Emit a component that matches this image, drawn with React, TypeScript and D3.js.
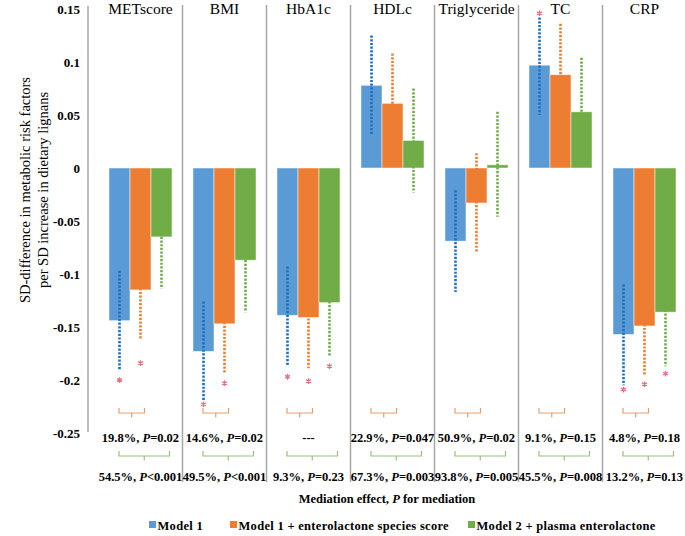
import * as d3 from "d3";

const categories = ["METscore", "BMI", "HbA1c", "HDLc", "Triglyceride", "TC", "CRP"];
const models = ["Model 1", "Model 1 + enterolactone species score", "Model 2 + plasma enterolactone"];
const colors = ["#5b9bd5", "#ed7d31", "#70ad47"];
const ciColors = ["#1f6fc0", "#ed7d31", "#70ad47"];

// point estimates per model
const model1 = [-0.144, -0.173, -0.139, 0.078, -0.069, 0.097, -0.157];
const model2 = [-0.115, -0.147, -0.141, 0.061, -0.033, 0.088, -0.149];
const model3 = [-0.065, -0.087, -0.127, 0.026, 0.003, 0.053, -0.136];

// 95% CI
const model1Lo = [-0.191, -0.219, -0.187, 0.032, -0.117, 0.05, -0.205];
const model1Hi = [-0.097, -0.126, -0.093, 0.125, -0.021, 0.142, -0.11];
const model2Lo = [-0.162, -0.194, -0.189, 0.014, -0.08, 0.04, -0.196];
const model2Hi = [-0.068, -0.1, -0.093, 0.108, 0.014, 0.136, -0.102];
const model3Lo = [-0.114, -0.136, -0.177, -0.023, -0.046, 0.002, -0.187];
const model3Hi = [-0.016, -0.038, -0.077, 0.075, 0.053, 0.104, -0.085];

// significance markers (position of the asterisk), null = none
const model1Star = [-0.2, -0.223, -0.197, null, null, 0.146, -0.209];
const model2Star = [-0.184, -0.203, -0.201, null, null, null, -0.204];
const model3Star = [null, null, -0.187, null, null, null, -0.194];

const yTicks = [0.15, 0.1, 0.05, 0, -0.05, -0.1, -0.15, -0.2, -0.25];

// mediation effect text
const medSpeciesPct = ["19.8%", "14.6%", "---", "22.9%", "50.9%", "9.1%", "4.8%"];
const medSpeciesP = ["=0.02", "=0.02", "", "=0.047", "=0.02", "=0.15", "=0.18"];
const medPlasmaPct = ["54.5%", "49.5%", "9.3%", "67.3%", "93.8%", "45.5%", "13.2%"];
const medPlasmaP = ["<0.001", "<0.001", "=0.23", "=0.003", "=0.005", "=0.008", "=0.13"];

const values = [model1, model2, model3];
const los = [model1Lo, model2Lo, model3Lo];
const his = [model1Hi, model2Hi, model3Hi];
const stars = [model1Star, model2Star, model3Star];

const W = 685;
const H = 536;
const FONT = "Liberation Serif, Times New Roman, DejaVu Serif, serif";

export default function App() {
  const x = d3.scaleBand().domain(categories).range([98.5, 686.5]).paddingInner(0.25).paddingOuter(0.125);
  const xSub = d3.scaleBand().domain(models).range([0, x.bandwidth()]);
  const y = d3.scaleLinear().domain([-0.25, 0.15]).range([433, 9]);
  const step = x.step();
  const bw = xSub.bandwidth();
  const star = d3.symbol(d3.symbolAsterisk, 22)();

  const cx = (c: string) => (x(c) as number) + x.bandwidth() / 2;
  const sx = (c: string, m: number) => (x(c) as number) + (xSub(models[m]) as number) + bw / 2;

  const bracket = (x0: number, x1: number, yy: number, color: string, key: string) => (
    <path
      key={key}
      d={`M${x0},${yy - 5}V${yy}H${x1}V${yy - 5}M${(x0 + x1) / 2},${yy}V${yy + 4.5}`}
      fill="none"
      stroke={color}
      strokeWidth={1.2}
    />
  );

  return (
    <svg width={W} height={H} style={{ position: "absolute", left: 0, top: 0, background: "#fff" }}>
      {/* y axis line */}
      <line x1={88} x2={88} y1={6} y2={432} stroke="#a6a6a6" strokeWidth={1.5} />
      {/* panel separators */}
      {categories.slice(0, -1).map((c) => (
        <line
          key={"sep" + c}
          x1={(x(c) as number) + x.bandwidth() + (step - x.bandwidth()) / 2}
          x2={(x(c) as number) + x.bandwidth() + (step - x.bandwidth()) / 2}
          y1={5}
          y2={482}
          stroke="#a6a6a6"
          strokeWidth={1.5}
        />
      ))}

      {/* y tick labels */}
      {yTicks.map((t) => (
        <text key={"t" + t} x={80} y={y(t)} dy="0.35em" textAnchor="end" fontFamily={FONT} fontSize={13} fontWeight="bold">
          {String(t)}
        </text>
      ))}

      {/* y axis title */}
      <g transform="translate(25,190) rotate(-90)">
        <text textAnchor="middle" dy="0.35em" fontFamily={FONT} fontSize={14.5}>SD-difference  in metabolic risk factors</text>
      </g>
      <g transform="translate(43,190) rotate(-90)">
        <text textAnchor="middle" dy="0.35em" fontFamily={FONT} fontSize={14.5}>per SD increase in dietary lignans</text>
      </g>

      {/* category titles */}
      {categories.map((c) => (
        <text key={"ct" + c} x={cx(c)} y={14} textAnchor="middle" fontFamily={FONT} fontSize={15.5}>
          {c}
        </text>
      ))}

      {/* bars */}
      {values.map((vals, m) =>
        categories.map((c, i) => (
          <rect
            key={"b" + m + c}
            x={(x(c) as number) + (xSub(models[m]) as number)}
            y={y(Math.max(0, vals[i]))}
            width={bw}
            height={Math.abs(y(vals[i]) - y(0))}
            fill={colors[m]}
            stroke="#ffffff"
            strokeOpacity={0.6}
            strokeWidth={0.8}
          />
        ))
      )}

      {/* CI dotted lines */}
      {values.map((_, m) =>
        categories.map((c, i) => (
          <line
            key={"e" + m + c}
            x1={sx(c, m)}
            x2={sx(c, m)}
            y1={y(his[m][i])}
            y2={y(los[m][i])}
            stroke={ciColors[m]}
            strokeWidth={2.6}
            strokeDasharray="2.2 1.5"
          />
        ))
      )}

      {/* asterisks */}
      {stars.map((arr, m) =>
        categories.map((c, i) =>
          arr[i] == null ? null : (
            <path
              key={"s" + m + c}
              d={star as string}
              transform={`translate(${sx(c, m)},${y(arr[i] as number)})`}
              fill="none"
              stroke="#e8707e"
              strokeWidth={1.3}
            />
          )
        )
      )}

      {/* mediation brackets */}
      {categories.map((c) => {
        const x0 = sx(c, 0) - 0.5;
        return [
          bracket(x0, sx(c, 1) + 4, 413, "#e5a06e", "ob" + c),
          bracket(x0, sx(c, 2) + 8, 456, "#96c27a", "gb" + c),
        ];
      })}

      {/* mediation text */}
      {categories.map((c, i) => (
        <text key={"m1" + c} x={cx(c)} y={442} textAnchor="middle" fontFamily={FONT} fontSize={12.5} fontWeight="bold">
          {medSpeciesP[i] === "" ? (
            medSpeciesPct[i]
          ) : (
            <>
              <tspan>{medSpeciesPct[i] + ", "}</tspan>
              <tspan fontStyle="italic">P</tspan>
              <tspan>{medSpeciesP[i]}</tspan>
            </>
          )}
        </text>
      ))}
      {categories.map((c, i) => (
        <text key={"m2" + c} x={cx(c)} y={481} textAnchor="middle" fontFamily={FONT} fontSize={12.5} fontWeight="bold">
          <tspan>{medPlasmaPct[i] + ", "}</tspan>
          <tspan fontStyle="italic">P</tspan>
          <tspan>{medPlasmaP[i]}</tspan>
        </text>
      ))}

      {/* x axis title */}
      <text x={387} y={503} textAnchor="middle" fontFamily={FONT} fontSize={12.5} fontWeight="bold">
        <tspan>Mediation effect, </tspan>
        <tspan fontStyle="italic">P</tspan>
        <tspan> for mediation</tspan>
      </text>

      {/* legend */}
      {models.map((m, k) => {
        const lx = [149, 230, 468][k];
        return (
          <g key={"lg" + k} transform={`translate(${lx},0)`}>
            <rect x={0} y={521} width={7} height={7} fill={colors[k]} />
            <text x={8.5} y={530} fontFamily={FONT} fontSize={12.5} fontWeight="bold" letterSpacing={0.3}>
              {m}
            </text>
          </g>
        );
      })}
    </svg>
  );
}
